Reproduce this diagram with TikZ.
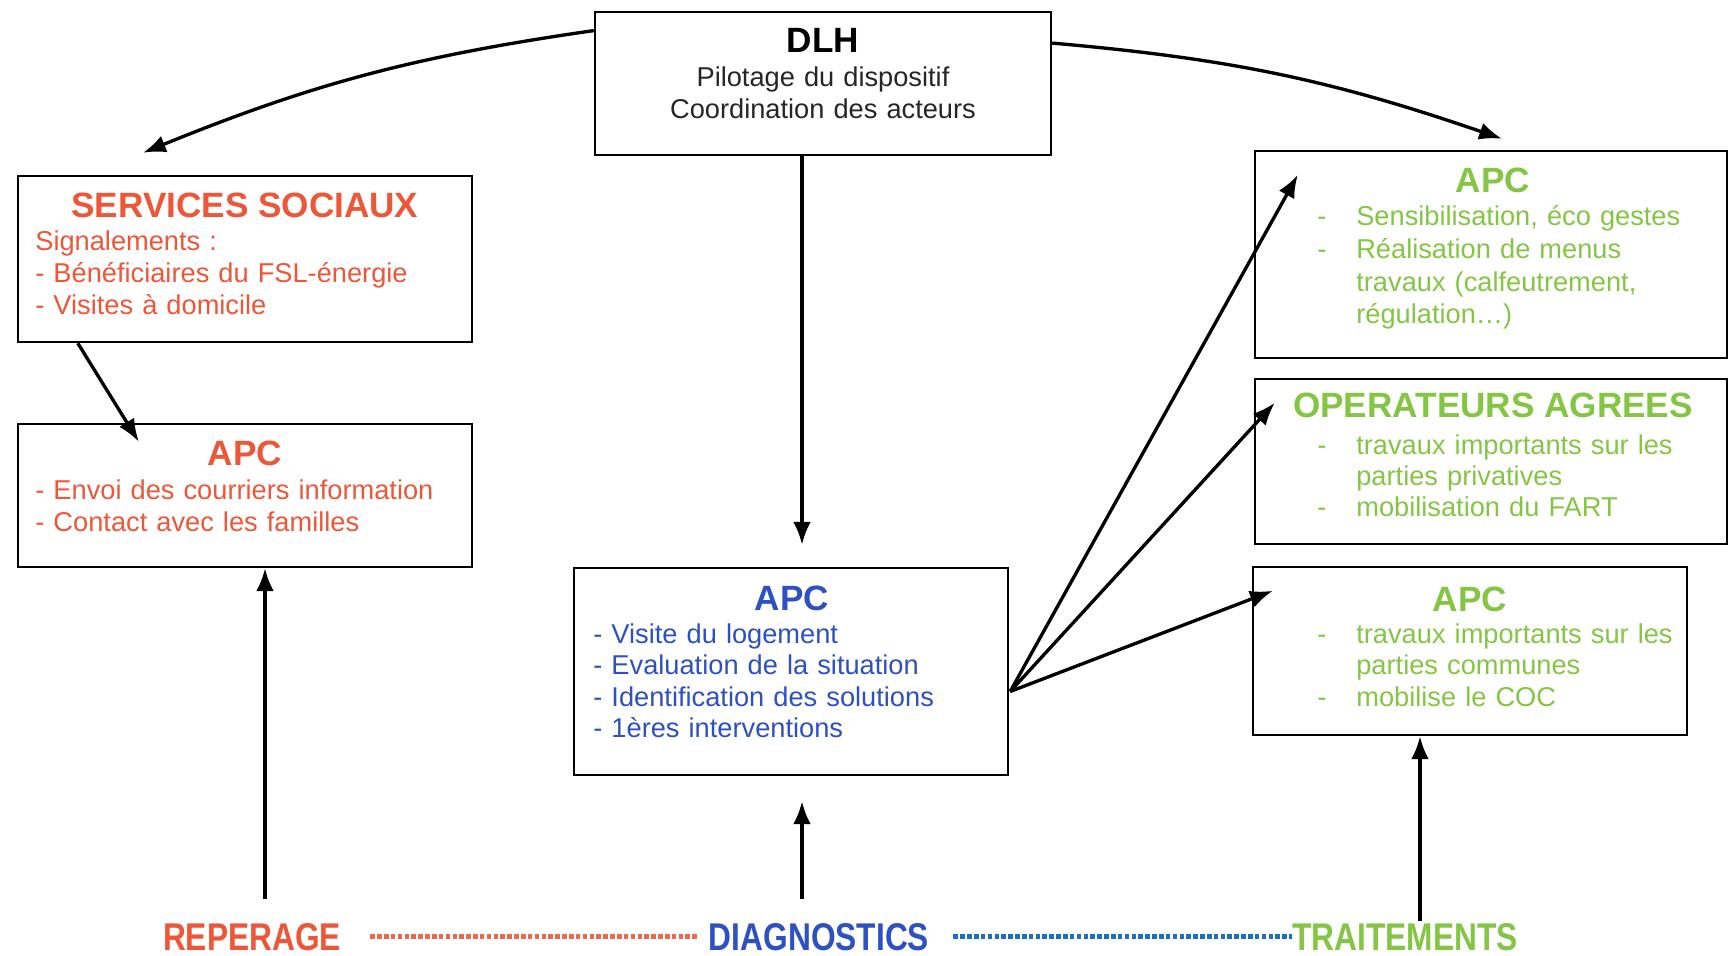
\documentclass[tikz,border=0pt]{standalone}
\usepackage{fontspec}
\setmainfont{Liberation Sans}
\usetikzlibrary{arrows.meta,positioning,calc}
\definecolor{repred}{RGB}{238,86,56}
\definecolor{diagblue}{RGB}{45,80,195}
\definecolor{dotblue}{RGB}{25,110,205}
\definecolor{trtgreen}{RGB}{132,198,68}
\tikzset{
  box/.style={draw=black, line width=1.4pt, inner sep=0pt},
  ttl/.style={font=\fontsize{20}{24}\selectfont\bfseries, anchor=base, inner sep=0pt},
  body/.style={font=\fontsize{15.5}{18}\selectfont, anchor=base west, align=left, text width=9cm, inner sep=0pt},
  phase/.style={font=\fontsize{22}{24}\selectfont\bfseries, anchor=base, inner sep=0pt},
  arr/.style={-{Latex[length=13pt,width=10pt]}, line width=1.9pt},
  dots/.style={line width=2.6pt, dash pattern=on 2.6pt off 1.3pt},
}
\newcommand{\gdash}{\makebox[0.78cm][l]{-}}
\newcommand{\gind}{\hspace*{0.78cm}}

\begin{document}
\begin{tikzpicture}[x=0.02cm,y=-0.02cm]
  \useasboundingbox (0,0) rectangle (1729,956);
  % boxes
  \node[box, minimum width=9.12cm, minimum height=2.86cm] (dlh) at (823,83.5) {};
  \node[box, minimum width=9.08cm, minimum height=3.32cm] (ss) at (245,259) {};
  \node[box, minimum width=9.08cm, minimum height=2.86cm] (apcr) at (245,495.5) {};
  \node[box, minimum width=8.68cm, minimum height=4.14cm] (apcb) at (791,671.5) {};
  \node[box, minimum width=9.44cm, minimum height=4.14cm] (aptop) at (1491,254.5) {};
  \node[box, minimum width=9.44cm, minimum height=3.30cm] (oper) at (1491,461.5) {};
  \node[box, minimum width=8.68cm, minimum height=3.36cm] (apbot) at (1470,651) {};

  % DLH
  \node[ttl] (dlh-t) at (823,53) {DLH};
  \node[body, anchor=base, align=center, text width=8cm, text=black!85] (dlh-b) at (823,87)
    {Pilotage du dispositif\\Coordination des acteurs};

  % reperage
  \node[ttl, text=repred] (ss-t) at (245,218) {SERVICES SOCIAUX};
  \node[body, text=repred] (ss-b) at (35,251)
    {Signalements :\\- Bénéficiaires du FSL-énergie\\- Visites à domicile};
  \node[ttl, text=repred] (apcr-t) at (245,465) {APC};
  \node[body, text=repred] (apcr-b) at (35,500)
    {- Envoi des courriers information\\- Contact avec les familles};

  % diagnostics
  \node[ttl, text=diagblue] (apcb-t) at (792,610) {APC};
  \node[body, text=diagblue] (apcb-b) at (593,643)
    {- Visite du logement\\- Evaluation de la situation\\- Identification des solutions\\- 1ères interventions};

  % traitements
  \node[ttl, text=trtgreen] (aptop-t) at (1493,193) {APC};
  \node[body, text=trtgreen, font=\fontsize{15.5}{18.5}\selectfont] (aptop-b) at (1317,226)
    {\gdash Sensibilisation, éco gestes\\\gdash Réalisation de menus\\\gind travaux (calfeutrement,\\\gind régulation…)};
  \node[ttl, text=trtgreen] (oper-t) at (1493,418) {OPERATEURS AGREES};
  \node[body, text=trtgreen, font=\fontsize{15.5}{17.5}\selectfont] (oper-b) at (1317,455)
    {\gdash travaux importants sur les\\\gind parties privatives\\\gdash mobilisation du FART};
  \node[ttl, text=trtgreen] (apbot-t) at (1470,611) {APC};
  \node[body, text=trtgreen] (apbot-b) at (1317,643)
    {\gdash travaux importants sur les\\\gind parties communes\\\gdash mobilise le COC};

  % phases
  \node[phase, text=repred] (rep) at (252,950) {\scalebox{0.82}[1]{REPERAGE}};
  \node[phase, text=diagblue] (diag) at (819,950) {\scalebox{0.82}[1]{DIAGNOSTICS}};
  \node[phase, text=trtgreen] (trait) at (1405,950) {\scalebox{0.82}[1]{TRAITEMENTS}};
  \draw[dots, repred!90, shorten <=0.58cm, shorten >=0.24cm] (rep.east) -- (diag.west);
  \draw[dots, dotblue, shorten <=0.48cm] (diag.east) -- (trait.west);

  \coordinate (rep-up) at (265,899);
  \coordinate (diag-up) at (802,899);
  \coordinate (trait-up) at (1420,921);
  \coordinate (fan) at ($(apcb.east)+(1,20)$);

  % arrows
  \draw[arr] (dlh.167) to[bend right=7] ($(ss.north)+(-102,-22)$);
  \draw[arr] (dlh.10) to[bend left=7] ($(aptop.north)+(11,-11)$);
  \draw[arr] (dlh.south -| diag-up) -- ($(apcb.north -| diag-up)+(0,-22)$);
  \draw[arr] ($(ss.south west)+(61,0)$) -- ($(apcr.north west)+(122,19)$);
  \draw[arr] (fan) -- ($(aptop.north west)+(44,25)$);
  \draw[arr] (fan) -- ($(oper.north west)+(21,25)$);
  \draw[arr] (fan) -- ($(apbot.north west)+(21,25)$);
  \draw[arr] (rep-up) -- (rep-up |- apcr.south);
  \draw[arr] (diag-up) -- ($(diag-up |- apcb.south)+(0,25)$);
  \draw[arr] (trait-up) -- (trait-up |- apbot.south);
\end{tikzpicture}
\end{document}
